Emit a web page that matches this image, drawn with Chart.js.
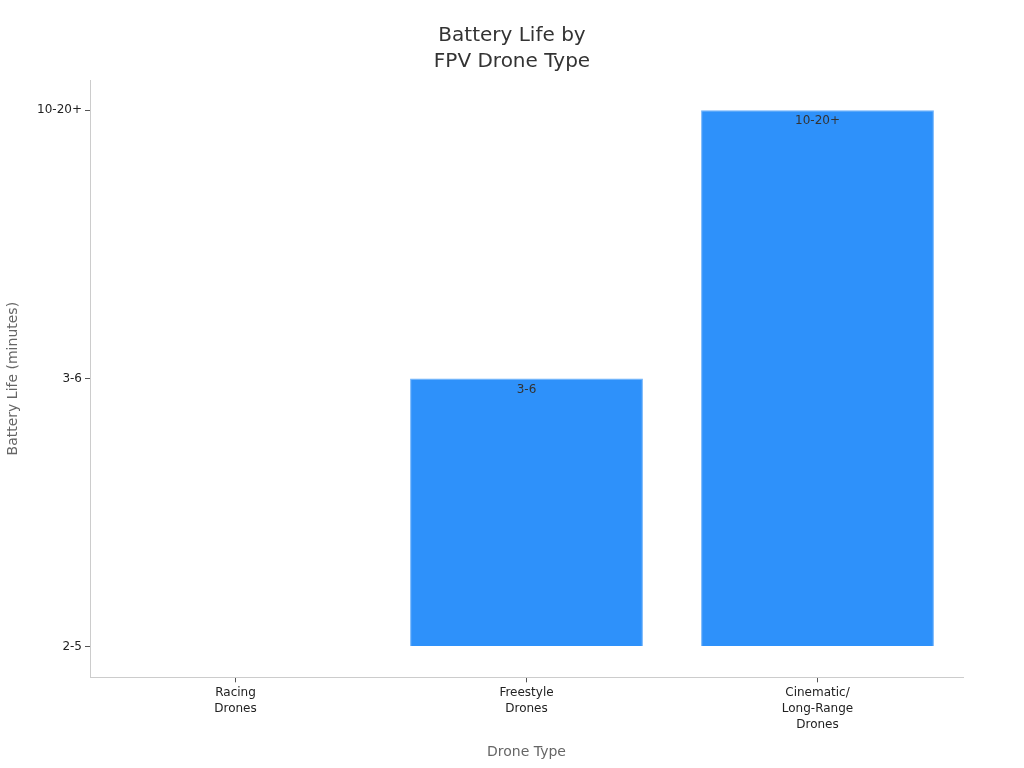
<!DOCTYPE html>
<html>
<head>
<meta charset="utf-8">
<script src="https://cdn.jsdelivr.net/npm/chart.js@4"></script>
<style>
  html, body { margin: 0; padding: 0; background: #fff; }
  #wrap { width: 1024px; height: 768px; }
</style>
</head>
<body>
<div id="wrap"><canvas id="batteryChart"></canvas></div>
<script>
// Chart data
const droneTypes = [['Racing', 'Drones'], ['Freestyle', 'Drones'], ['Cinematic/', 'Long-Range', 'Drones']];
const batteryRanges = ['2-5', '3-6', '10-20+'];   // y axis tick labels, bottom to top
const batteryLife = ['2-5', '3-6', '10-20+'];     // value per drone type

// Put each range on its tick position
const rangeIndex = batteryLife.map(v => batteryRanges.indexOf(v));

const FONT = '"DejaVu Sans", sans-serif';

// Draws the range text just inside the top of each bar
const barLabels = {
    id: 'barLabels',
    afterDatasetsDraw(chart) {
        const ctx = chart.ctx;
        const meta = chart.getDatasetMeta(0);
        ctx.save();
        ctx.font = '12px ' + FONT;
        ctx.fillStyle = '#333';
        ctx.textAlign = 'center';
        ctx.textBaseline = 'middle';
        meta.data.forEach((bar, i) => {
            if (Math.abs(bar.base - bar.y) < 1) return;
            ctx.fillText(batteryLife[i], bar.x, bar.y + 11);
        });
        ctx.restore();
    }
};

new Chart(document.getElementById('batteryChart'), {
    type: 'bar',
    data: {
        labels: droneTypes,
        datasets: [{
            label: 'Battery Life',
            data: rangeIndex,
            backgroundColor: '#2E91FA',
            borderColor: '#6AB0FB',
            borderWidth: 1,
            barPercentage: 0.8,
            categoryPercentage: 1,
            yAxisID: 'y'
        }]
    },
    options: {
        responsive: true,
        maintainAspectRatio: false,
        animation: false,
        layout: {
            padding: 0
        },
        plugins: {
            legend: { display: false },
            tooltip: { enabled: false },
            title: {
                display: true,
                text: ['Battery Life by', 'FPV Drone Type'],
                color: '#333',
                font: { family: FONT, size: 20, weight: 'normal', lineHeight: 1.3 },
                padding: { top: 23, bottom: 5 }
            }
        },
        scales: {
            x: {
                grid: { drawOnChartArea: false, drawTicks: true, tickLength: 5, color: '#555', offset: false },
                border: { color: '#ccc' },
                ticks: {
                    color: '#222',
                    font: { family: FONT, size: 12, lineHeight: 1.33 },
                    padding: 3,
                    maxRotation: 0
                },
                title: {
                    display: true,
                    text: 'Drone Type',
                    color: '#666',
                    font: { family: FONT, size: 14 },
                    padding: { top: 8, bottom: 7 }
                }
            },
            y: {
                type: 'linear',
                min: -0.115,
                max: 2.113,
                afterFit: (scale) => { scale.width = 90; },
                grid: { drawOnChartArea: false, drawTicks: true, tickLength: 5, color: '#555' },
                border: { color: '#ccc' },
                ticks: {
                    stepSize: 1,
                    includeBounds: false,
                    color: '#222',
                    font: { family: FONT, size: 12 },
                    padding: 3,
                    callback: (value) => Number.isInteger(value) ? batteryRanges[value] : ''
                },
                title: {
                    display: true,
                    text: 'Battery Life (minutes)',
                    color: '#666',
                    font: { family: FONT, size: 14 },
                    padding: { top: 5, bottom: 0 }
                }
            },
            // empty right-hand axis, only keeps space on the right of the plot
            yRight: {
                type: 'linear',
                position: 'right',
                display: true,
                afterFit: (scale) => { scale.width = 61; },
                grid: { display: false },
                border: { display: false },
                ticks: { display: false }
            }
        }
    },
    plugins: [barLabels]
});
</script>
</body>
</html>
